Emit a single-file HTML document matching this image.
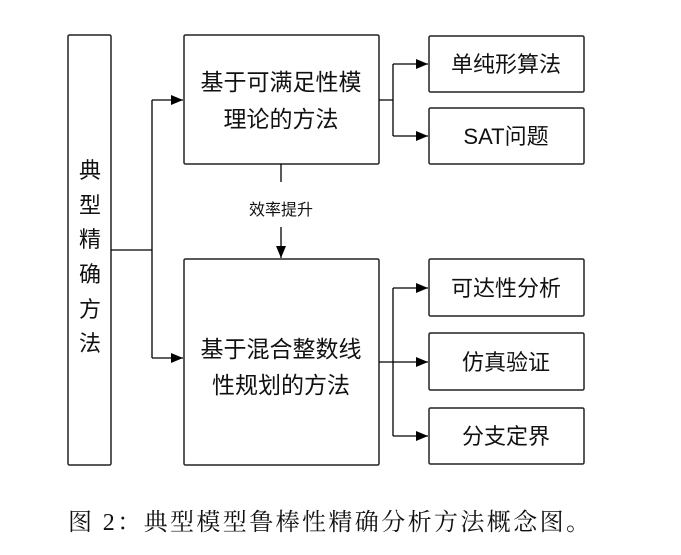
<!DOCTYPE html>
<html><head><meta charset="utf-8"><style>
body{margin:0;background:#fff;width:681px;height:550px;overflow:hidden}
svg text{font-family:"Liberation Sans","Noto Sans CJK SC",sans-serif;fill:#111}
</style></head><body>
<svg width="681" height="550" viewBox="0 0 681 550" xmlns="http://www.w3.org/2000/svg">
<defs><marker id="a" markerWidth="12" markerHeight="10" refX="12" refY="5" orient="auto" markerUnits="userSpaceOnUse"><path d="M0,0 L12,5 L0,10 Z" fill="#000"/></marker></defs>
<g fill="none" stroke="#222" stroke-width="1.5">
<rect x="68" y="35" width="43" height="430" rx="1.5"/>
<rect x="184" y="35" width="195" height="129" rx="1.5"/>
<rect x="184" y="259" width="195" height="206" rx="1.5"/>
<rect x="429" y="36" width="155" height="56" rx="1.5"/>
<rect x="429" y="108" width="155" height="56" rx="1.5"/>
<rect x="429" y="259" width="155" height="57" rx="1.5"/>
<rect x="429" y="333" width="155" height="57" rx="1.5"/>
<rect x="429" y="408" width="155" height="56" rx="1.5"/>
</g>
<g fill="none" stroke="#000" stroke-width="1.3">
<path d="M111 250 H152 M152 100 V358"/>
<path d="M152 100 H183" marker-end="url(#a)"/>
<path d="M152 358 H183" marker-end="url(#a)"/>
<path d="M379 100 H393 M393 64 V136"/>
<path d="M393 64 H428" marker-end="url(#a)"/>
<path d="M393 136 H428" marker-end="url(#a)"/>
<path d="M379 362 H393 M393 288 V436"/>
<path d="M393 288 H428" marker-end="url(#a)"/>
<path d="M393 362 H428" marker-end="url(#a)"/>
<path d="M393 436 H428" marker-end="url(#a)"/>
<path d="M281 164 V182"/>
<path d="M281 227 V258" marker-end="url(#a)"/>
</g>
<g font-size="23" text-anchor="middle">
<text x="90" y="178" font-size="22">典</text><text x="90" y="213" font-size="22">型</text><text x="90" y="247" font-size="22">精</text><text x="90" y="282" font-size="22">确</text><text x="90" y="317" font-size="22">方</text><text x="90" y="351" font-size="22">法</text>
<text x="281" y="90">基于可满足性模</text><text x="281" y="127">理论的方法</text>
<text x="281" y="357">基于混合整数线</text><text x="281" y="393">性规划的方法</text>
<text x="506" y="72" font-size="22">单纯形算法</text>
<text x="506" y="144" font-size="22">SAT问题</text>
<text x="506" y="296" font-size="22">可达性分析</text>
<text x="506" y="370" font-size="22">仿真验证</text>
<text x="506" y="444" font-size="22">分支定界</text>
<text x="281" y="215" font-size="16">效率提升</text>
</g>
<text x="68" y="530" font-size="24" style="font-family:'Liberation Serif','Noto Serif CJK SC',serif" fill="#222" textLength="522">图 2：典型模型鲁棒性精确分析方法概念图。</text>
</svg>
</body></html>
